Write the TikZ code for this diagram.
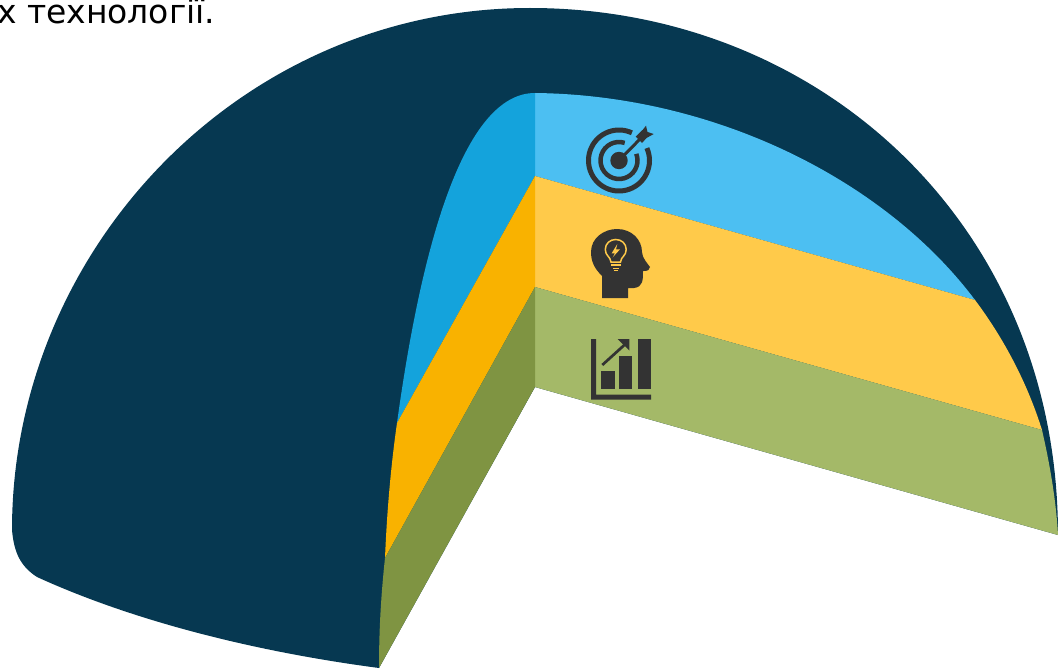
\documentclass[tikz,border=0pt]{standalone}
\usepackage{fontspec}
\setmainfont{DejaVu Sans}
\definecolor{navy}{HTML}{063851}
\definecolor{skyl}{HTML}{4CBFF2}
\definecolor{skyd}{HTML}{14A3DC}
\definecolor{yell}{HTML}{FFCA4A}
\definecolor{oran}{HTML}{F9B200}
\definecolor{grnl}{HTML}{A4B968}
\definecolor{grnd}{HTML}{7F9442}
\definecolor{icon}{HTML}{333333}
\tikzset{ring/.style={draw=icon,line cap=butt}}
\begin{document}
\begin{tikzpicture}[x=1pt,y=-1pt]
\useasboundingbox (0,0) rectangle (1058,669);
\clip (0,0) rectangle (1058,669);
\coordinate (O1) at (535,93);
\coordinate (O2) at (535,176);
\coordinate (O3) at (535,287);
\coordinate (O4) at (535,387);
\coordinate (R1) at (975,300);
\coordinate (R2) at (1042,430);
\coordinate (R3) at (1058,535);
\coordinate (L1) at (397,423);
\coordinate (L2) at (385,558);
\coordinate (L3) at (379,668);
% outer dark body
\fill[navy] (L3) .. controls (265,653) and (140,624) .. (37,577)
  .. controls (20,566) and (14,552) .. (12,530)
  .. controls (12,250) and (240,8) .. (530,8)
  .. controls (820,8) and (1058,225) .. (R3) -- (O4) -- cycle;
% bands
\fill[skyl] (O1) .. controls (715,95) and (885,180) .. (R1) -- (O2) -- cycle;
\fill[yell] (O2) -- (R1) .. controls (1005,340) and (1028,385) .. (R2) -- (O3) -- cycle;
\fill[grnl] (O3) -- (R2) .. controls (1050,465) and (1056,500) .. (R3) -- (O4) -- cycle;
\fill[skyd] (O1) .. controls (470,93) and (425,220) .. (L1) -- (O2) -- cycle;
\fill[oran] (O2) -- (L1) .. controls (391,465) and (387,510) .. (L2) -- (O3) -- cycle;
\fill[grnd] (O3) -- (L2) .. controls (381,595) and (379,630) .. (L3) -- (O4) -- cycle;
% text
\node[anchor=base east,inner sep=0pt,font=\fontsize{33}{33}\selectfont,text=black] (caption) at (215.5,23.5) {х технології.};
% target icon
\coordinate (tc) at (619,160.5);
\draw[ring,line width=5pt] ([shift={(-65:30.5)}]tc) arc[start angle=-65,end angle=-384,radius=30.5];
\draw[ring,line width=4.5pt] ([shift={(-72:18.5)}]tc) arc[start angle=-72,end angle=-381,radius=18.5];
\fill[icon] (tc) circle[radius=8.7];
\draw[icon,line width=3pt] (tc) -- (641,138);
\fill[icon] (635.7,136.7) -- (643,129.5) -- (646,125.7) -- (647.5,132) -- (653.7,134) -- (646.5,138) -- (642,143) -- cycle;
% head icon
\fill[icon] (602,298) -- (602,276)
  .. controls (594,268) and (591,261) .. (591,252)
  .. controls (591,238) and (604,229) .. (617,229)
  .. controls (632,229) and (642,240) .. (642,252)
  .. controls (642,258) and (648,264) .. (650,267)
  .. controls (650,270) and (648,271) .. (643,271)
  .. controls (643,280) and (643,287) .. (634,288)
  -- (628,288) -- (628,298) -- cycle;
\draw[yell,line width=1.5pt] (611,262) .. controls (610.5,256.5) and (605.3,256) .. (605.3,249.5)
  .. controls (605.3,243.5) and (610,239.5) .. (615.7,239.5)
  .. controls (621.5,239.5) and (626.2,243.5) .. (626.2,249.5)
  .. controls (626.2,256) and (621,256.5) .. (620.5,262) -- cycle;
\fill[yell] (617.3,244) -- (611.7,253.3) -- (615,253.3) -- (612.7,257.3) -- (620,249.3) -- (616,249.3) -- cycle;
\fill[yell] (611,264.2) rectangle (620.5,265.8);
\fill[yell] (612.7,267.5) rectangle (619,269);
\fill[yell] (613.5,270) rectangle (618,271);
% chart icon
\fill[icon] (591,339) rectangle (596,399.5) (591,394.5) rectangle (651,399.5);
\fill[icon] (601,371) rectangle (615,388.5);
\fill[icon] (619.3,356) rectangle (632.3,388.5);
\fill[icon] (638.3,339) rectangle (651,388.5);
\draw[icon,line width=2.7pt] (602.3,365) -- (626,343.5);
\fill[icon] (617.7,339) -- (629.3,339) -- (629.3,350.5) -- cycle;
\end{tikzpicture}
\end{document}
